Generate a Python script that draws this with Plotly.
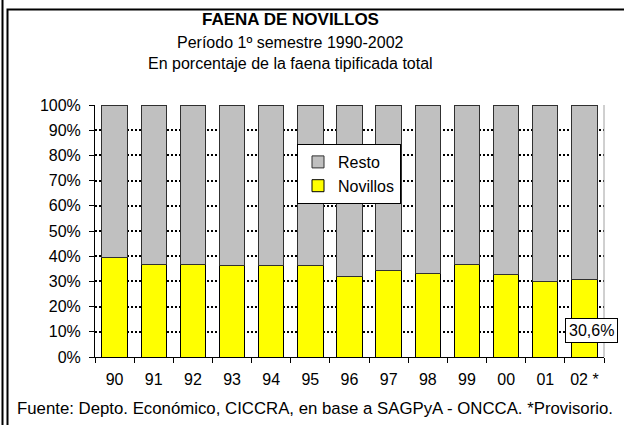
import plotly.graph_objects as go

categories = ["90", "91", "92", "93", "94", "95", "96", "97", "98", "99", "00", "01", "02 *"]
novillos = [39.5, 36.7, 36.7, 36.3, 36.3, 36.3, 31.8, 34.2, 33.0, 36.7, 32.7, 29.8, 30.6]
resto = [round(100 - v, 1) for v in novillos]
y_ticks = [0, 10, 20, 30, 40, 50, 60, 70, 80, 90, 100]
y_ticktext = [f"{v}%" for v in y_ticks]

W, H = 624, 425
L, R, T, B = 95, 20, 105, 68
PW, PH = W - L - R, H - T - B
FONT = "Liberation Sans, Arial, sans-serif"


def px(x):
    return (x - L) / PW


def py(y):
    return (H - B - y) / PH


fig = go.Figure()
fig.add_trace(go.Bar(
    x=categories, y=novillos, name="Novillos", legendgroup="n",
    marker=dict(color="#FFFF00", line=dict(color="#000000", width=1)),
))
fig.add_trace(go.Bar(
    x=categories, y=resto, name="Resto", legendgroup="r",
    marker=dict(color="#C0C0C0", line=dict(color="#303030", width=1)),
))

fig.update_layout(
    width=W, height=H,
    margin=dict(l=L, r=R, t=T, b=B, autoexpand=False),
    barmode="stack", bargap=0.35,
    paper_bgcolor="white", plot_bgcolor="white",
    font=dict(family=FONT, size=16, color="black"),
    showlegend=True,
    legend=dict(
        x=px(297), y=py(144), xanchor="left", yanchor="top",
        traceorder="reversed", tracegroupgap=4, itemwidth=30,
        bgcolor="white", bordercolor="#000000", borderwidth=1,
        font=dict(family=FONT, size=16, color="black"),
    ),
    xaxis=dict(
        type="category", range=[-0.5, len(categories) - 0.5], automargin=False,
        showline=True, linecolor="black", linewidth=1,
        ticks="outside", tickson="boundaries", ticklen=5, tickcolor="black",
        ticklabelstandoff=8,
        showgrid=False, tickfont=dict(size=16),
    ),
    yaxis=dict(
        range=[0, 100], tickvals=y_ticks, ticktext=y_ticktext, automargin=False,
        showline=True, linecolor="black", linewidth=1,
        ticks="outside", ticklen=5, tickcolor="black", ticklabelstandoff=5,
        showgrid=True, gridcolor="black", gridwidth=1.5, griddash="2px,2px",
        zeroline=False, tickfont=dict(size=16),
    ),
)

# right border of plot area
fig.add_shape(type="line", xref="paper", yref="paper", x0=1, x1=1, y0=0, y1=1,
              line=dict(color="#A0A0A0", width=1))
# outer chart frame
fig.add_shape(type="rect", xref="paper", yref="paper",
              x0=px(7.5), x1=px(W + 20), y0=py(H + 20), y1=py(9.5),
              line=dict(color="black", width=2), layer="below")
fig.add_shape(type="line", xref="paper", yref="paper",
              x0=px(2.5), x1=px(2.5), y0=py(H + 20), y1=py(-5),
              line=dict(color="black", width=2))

# titles
title_lines = [
    ("<b>FAENA DE NOVILLOS</b>", 19, 17),
    ("Período 1º semestre 1990-2002", 42, 16),
    ("En porcentaje de la faena tipificada total", 64, 16),
]
for txt, yy, fs in title_lines:
    fig.add_annotation(text=txt, xref="paper", yref="paper", x=px(290), y=py(yy),
                       xanchor="center", yanchor="middle", showarrow=False,
                       font=dict(family=FONT, size=fs, color="black"))

fig.add_annotation(text="Fuente: Depto. Económico, CICCRA, en base a SAGPyA - ONCCA. *Provisorio.",
                   xref="paper", yref="paper", x=px(315), y=py(408),
                   xanchor="center", yanchor="middle", showarrow=False,
                   font=dict(family=FONT, size=16.8, color="black"))

# data label for last bar
last_label = f"{novillos[-1]:.1f}".replace(".", ",") + "%"
fig.add_annotation(text=last_label, x=categories[-1], y=10.7, xref="x", yref="y",
                   showarrow=False, xshift=7,
                   bgcolor="white", bordercolor="black", borderwidth=1, borderpad=3,
                   font=dict(family=FONT, size=16, color="black"))

fig.write_html("out.html", config={"displayModeBar": False},
               post_script="document.body.style.margin='0px';")
